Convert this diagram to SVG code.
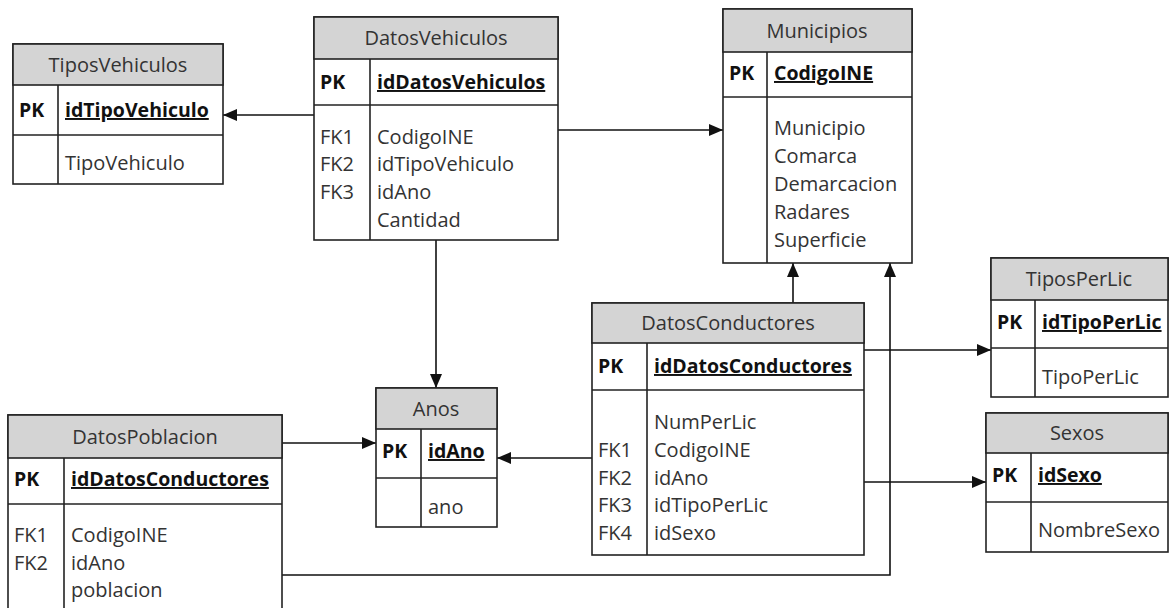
<svg xmlns="http://www.w3.org/2000/svg" width="1170" height="608" viewBox="0 0 1170 608">
<style>
.box{fill:#fff;stroke:#222;stroke-width:1.6}
.hdr{fill:#d4d4d4;stroke:#222;stroke-width:1.6}
.ln{stroke:#222;stroke-width:1.6;fill:none}
text{font-family:"Open Sans","Liberation Sans",sans-serif;font-size:20px;fill:#333}
.t{text-anchor:middle}
.pk{font-weight:bold;fill:#111;font-size:19.5px}
.pkf{font-weight:bold;fill:#111;font-size:19.5px;text-decoration:underline}
.con{stroke:#111;stroke-width:1.6;fill:none;marker-end:url(#arr)}
</style>
<defs>
<marker id="arr" viewBox="0 0 14 12" refX="14" refY="6" markerWidth="14" markerHeight="12" markerUnits="userSpaceOnUse" orient="auto">
<path d="M0,0 L14,6 L0,12 z" fill="#111"/>
</marker>
</defs>
<g id="connectors">
<line class="con" x1="314" y1="115" x2="223" y2="115"/>
<line class="con" x1="558" y1="130" x2="723" y2="130"/>
<line class="con" x1="436" y1="240" x2="436" y2="388"/>
<line class="con" x1="793" y1="303" x2="793" y2="263"/>
<line class="con" x1="864" y1="350" x2="991" y2="350"/>
<line class="con" x1="864" y1="482" x2="986" y2="482"/>
<line class="con" x1="592" y1="458" x2="497" y2="458"/>
<line class="con" x1="282" y1="443" x2="376" y2="443"/>
<polyline class="con" points="282,575 890,575 890,263"/>
</g>
<g id="TiposVehiculos">
<rect class="box" x="13" y="44" width="210" height="140"/>
<rect class="hdr" x="13" y="44" width="210" height="41"/>
<line class="ln" x1="13" y1="135" x2="223" y2="135"/>
<line class="ln" x1="58" y1="85" x2="58" y2="184"/>
<text class="t" x="118" y="72">TiposVehiculos</text>
<text class="pk" x="19" y="117">PK</text>
<text class="pkf" x="65" y="117">idTipoVehiculo</text>
<text x="65" y="170">TipoVehiculo</text>
</g>
<g id="DatosVehiculos">
<rect class="box" x="314" y="17" width="244" height="223"/>
<rect class="hdr" x="314" y="17" width="244" height="42"/>
<line class="ln" x1="314" y1="105" x2="558" y2="105"/>
<line class="ln" x1="370" y1="59" x2="370" y2="240"/>
<text class="t" x="436" y="45">DatosVehiculos</text>
<text class="pk" x="320" y="89">PK</text>
<text class="pkf" x="377" y="89">idDatosVehiculos</text>
<text x="320" y="144">FK1</text><text x="377" y="144">CodigoINE</text>
<text x="320" y="171">FK2</text><text x="377" y="171">idTipoVehiculo</text>
<text x="320" y="199">FK3</text><text x="377" y="199">idAno</text>
<text x="377" y="227">Cantidad</text>
</g>
<g id="Municipios">
<rect class="box" x="723" y="9" width="189" height="254"/>
<rect class="hdr" x="723" y="9" width="189" height="43"/>
<line class="ln" x1="723" y1="97" x2="912" y2="97"/>
<line class="ln" x1="767" y1="52" x2="767" y2="263"/>
<text class="t" x="817" y="38">Municipios</text>
<text class="pk" x="729" y="80">PK</text>
<text class="pkf" x="774" y="80">CodigoINE</text>
<text x="774" y="135">Municipio</text>
<text x="774" y="163">Comarca</text>
<text x="774" y="191">Demarcacion</text>
<text x="774" y="219">Radares</text>
<text x="774" y="247">Superficie</text>
</g>
<g id="DatosConductores">
<rect class="box" x="592" y="303" width="272" height="252"/>
<rect class="hdr" x="592" y="303" width="272" height="40"/>
<line class="ln" x1="592" y1="390" x2="864" y2="390"/>
<line class="ln" x1="647" y1="343" x2="647" y2="555"/>
<text class="t" x="728" y="330">DatosConductores</text>
<text class="pk" x="598" y="373">PK</text>
<text class="pkf" x="654" y="373">idDatosConductores</text>
<text x="654" y="429">NumPerLic</text>
<text x="598" y="457">FK1</text><text x="654" y="457">CodigoINE</text>
<text x="598" y="485">FK2</text><text x="654" y="485">idAno</text>
<text x="598" y="512">FK3</text><text x="654" y="512">idTipoPerLic</text>
<text x="598" y="540">FK4</text><text x="654" y="540">idSexo</text>
</g>
<g id="TiposPerLic">
<rect class="box" x="991" y="258" width="177" height="139"/>
<rect class="hdr" x="991" y="258" width="177" height="42"/>
<line class="ln" x1="991" y1="348" x2="1168" y2="348"/>
<line class="ln" x1="1035" y1="300" x2="1035" y2="397"/>
<text class="t" x="1079" y="286">TiposPerLic</text>
<text class="pk" x="997" y="329">PK</text>
<text class="pkf" x="1042" y="329">idTipoPerLic</text>
<text x="1042" y="384">TipoPerLic</text>
</g>
<g id="Sexos">
<rect class="box" x="986" y="413" width="182" height="139"/>
<rect class="hdr" x="986" y="413" width="182" height="40"/>
<line class="ln" x1="986" y1="502" x2="1168" y2="502"/>
<line class="ln" x1="1031" y1="453" x2="1031" y2="552"/>
<text class="t" x="1077" y="440">Sexos</text>
<text class="pk" x="992" y="482">PK</text>
<text class="pkf" x="1038" y="482">idSexo</text>
<text x="1038" y="537">NombreSexo</text>
</g>
<g id="DatosPoblacion">
<rect class="box" x="8" y="415" width="274" height="210"/>
<rect class="hdr" x="8" y="415" width="274" height="43"/>
<line class="ln" x1="8" y1="504" x2="282" y2="504"/>
<line class="ln" x1="64" y1="458" x2="64" y2="625"/>
<text class="t" x="145" y="444">DatosPoblacion</text>
<text class="pk" x="14" y="486">PK</text>
<text class="pkf" x="71" y="486">idDatosConductores</text>
<text x="14" y="542">FK1</text><text x="71" y="542">CodigoINE</text>
<text x="14" y="570">FK2</text><text x="71" y="570">idAno</text>
<text x="71" y="597">poblacion</text>
</g>
<g id="Anos">
<rect class="box" x="376" y="388" width="121" height="139"/>
<rect class="hdr" x="376" y="388" width="121" height="41"/>
<line class="ln" x1="376" y1="478" x2="497" y2="478"/>
<line class="ln" x1="421" y1="429" x2="421" y2="527"/>
<text class="t" x="436" y="416">Anos</text>
<text class="pk" x="382" y="458">PK</text>
<text class="pkf" x="428" y="458">idAno</text>
<text x="428" y="514">ano</text>
</g>
</svg>
